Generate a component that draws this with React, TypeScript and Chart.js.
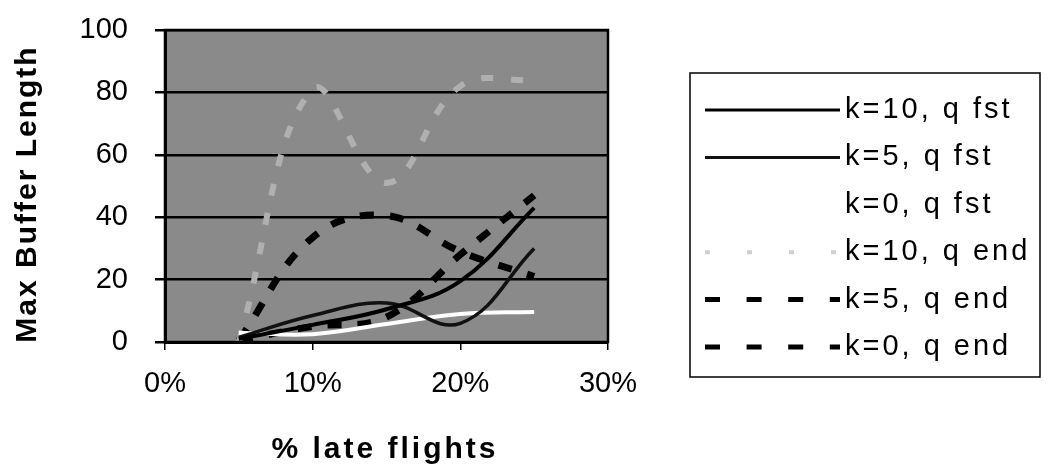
import React, { useEffect, useRef } from "react";
import { Chart, registerables } from "chart.js";

Chart.register(...registerables);

// ---- data ----
const xValues = [5, 10, 15, 20, 25]; // % late flights
const seriesLabels = [
  "k=10, q fst",
  "k=5, q fst",
  "k=0, q fst",
  "k=10, q end",
  "k=5, q end",
  "k=0, q end",
];
const k10QFst = [1, 5.5, 10.5, 19.5, 43];
const k5QFst = [1.5, 8.5, 12.5, 6, 30];
const k0QFst = [3, 2.5, 5.8, 9, 9.6];
const k10QEnd = [0, 81, 51, 82, 84];
const k5QEnd = [0.5, 33.5, 40.5, 29, 21];
const k0QEnd = [0.5, 5, 8, 28, 47];
const xTickValues = [0, 10, 20, 30];
const yTickValues = [0, 20, 40, 60, 80, 100];
const xTitle = "% late flights";
const yTitle = "Max Buffer Length";

const FONT = "'Liberation Sans', Arial, sans-serif";

const toPoints = (ys: number[]) => xValues.map((x, i) => ({ x, y: ys[i] }));

const chartDecor = {
  id: "chartDecor",
  beforeDraw(chart: any) {
    const { ctx, chartArea: a } = chart;
    ctx.save();
    ctx.fillStyle = "#8a8a8a";
    ctx.fillRect(a.left, a.top, a.right - a.left, a.bottom - a.top);
    ctx.restore();
  },
  afterDraw(chart: any) {
    const { ctx, chartArea: a } = chart;
    ctx.save();
    // plot frame
    ctx.strokeStyle = "#000";
    ctx.lineWidth = 2.5;
    ctx.strokeRect(a.left, a.top, a.right - a.left, a.bottom - a.top);

    // axis titles
    ctx.fillStyle = "#000";
    (ctx as any).letterSpacing = "3px";
    ctx.font = `bold 30px ${FONT}`;
    ctx.textAlign = "center";
    ctx.textBaseline = "middle";
    ctx.fillText(xTitle, 385, 450);
    ctx.save();
    ctx.translate(28, 194);
    ctx.rotate(-Math.PI / 2);
    (ctx as any).letterSpacing = "2px";
    ctx.fillText(yTitle, 0, 0);
    ctx.restore();

    // legend
    const lx = 690, ly = 73, lw = 350, lh = 304;
    ctx.fillStyle = "#fff";
    ctx.fillRect(lx, ly, lw, lh);
    ctx.strokeStyle = "#000";
    ctx.lineWidth = 1.5;
    ctx.strokeRect(lx, ly, lw, lh);
    const datasets = chart.data.datasets;
    datasets.forEach((ds: any, i: number) => {
      const y = 110 + i * 47.4;
      ctx.save();
      ctx.strokeStyle = ds.legendColor || ds.borderColor;
      ctx.lineWidth = ds.legendWidth || ds.borderWidth;
      ctx.setLineDash(ds.legendDash || []);
      ctx.beginPath();
      ctx.moveTo(705, y);
      ctx.lineTo(840, y);
      ctx.stroke();
      ctx.restore();
      ctx.fillStyle = "#000";
      ctx.font = `29px ${FONT}`;
      (ctx as any).letterSpacing = "3px";
      ctx.textAlign = "left";
      ctx.textBaseline = "middle";
      ctx.fillText(ds.label, 845, y);
    });
    ctx.restore();
  },
};

export default function App() {
  const canvasRef = useRef<HTMLCanvasElement | null>(null);

  useEffect(() => {
    document.body.style.margin = "0";
    const canvas = canvasRef.current;
    if (!canvas) return;
    const chart = new Chart(canvas, {
      type: "line",
      data: {
        datasets: [
          {
            label: seriesLabels[0],
            data: toPoints(k10QFst),
            borderColor: "#000",
            borderWidth: 4,
            legendWidth: 3,
          },
          {
            label: seriesLabels[1],
            data: toPoints(k5QFst),
            borderColor: "#111",
            borderWidth: 3.5,
            legendWidth: 3,
          },
          {
            label: seriesLabels[2],
            data: toPoints(k0QFst),
            borderColor: "#fff",
            borderWidth: 4,
          },
          {
            label: seriesLabels[3],
            data: toPoints(k10QEnd),
            borderColor: "#b0b0b0",
            borderWidth: 6,
            borderDash: [12, 18],
            legendColor: "#d0d0d0",
            legendWidth: 4,
            legendDash: [5, 37],
          },
          {
            label: seriesLabels[4],
            data: toPoints(k5QEnd),
            borderColor: "#000",
            borderWidth: 7,
            borderDash: [14, 16],
            legendWidth: 5,
            legendDash: [15, 26.6],
          },
          {
            label: seriesLabels[5],
            data: toPoints(k0QEnd),
            borderColor: "#000",
            borderWidth: 7,
            borderDash: [14, 16],
            legendWidth: 5,
            legendDash: [15, 26.6],
          },
        ] as any,
      },
      options: {
        animation: false,
        responsive: false,
        maintainAspectRatio: false,
        layout: { padding: { top: 30, right: 442, bottom: 0, left: 0 } },
        elements: {
          line: { tension: 0.4, cubicInterpolationMode: "default", fill: false, borderCapStyle: "butt" },
          point: { radius: 0, hoverRadius: 0 },
        },
        plugins: {
          legend: { display: false },
          tooltip: { enabled: false },
          title: { display: false },
        },
        scales: {
          x: {
            type: "linear",
            min: 0,
            max: 30,
            afterFit: (s: any) => { s.height = 125; s.paddingLeft = 0; s.paddingRight = 0; },
            afterBuildTicks: (s: any) => { s.ticks = xTickValues.map((v) => ({ value: v })); },
            ticks: {
              color: "#000",
              font: { family: FONT, size: 29 },
              padding: 17,
              maxRotation: 0,
              callback: (v: any) => `${v}%`,
            },
            grid: { drawOnChartArea: false, drawTicks: true, tickLength: 8, color: "#000", lineWidth: 1.5 },
            border: { display: true, color: "#000", width: 3 },
          },
          y: {
            type: "linear",
            min: 0,
            max: 100,
            afterFit: (s: any) => { s.width = 165; s.paddingTop = 0; s.paddingBottom = 0; },
            afterBuildTicks: (s: any) => { s.ticks = yTickValues.map((v) => ({ value: v })); },
            ticks: {
              color: "#000",
              font: { family: FONT, size: 29 },
              padding: 27,
            },
            grid: { drawOnChartArea: true, drawTicks: true, tickLength: 10, color: "#000", lineWidth: 2.5 },
            border: { display: true, color: "#000", width: 3 },
          },
        },
      } as any,
      plugins: [chartDecor],
    });
    return () => chart.destroy();
  }, []);

  return (
    <div style={{ width: 1050, height: 467, overflow: "hidden", background: "#fff" }}>
      <canvas ref={canvasRef} width={1050} height={467} style={{ display: "block" }} />
    </div>
  );
}
